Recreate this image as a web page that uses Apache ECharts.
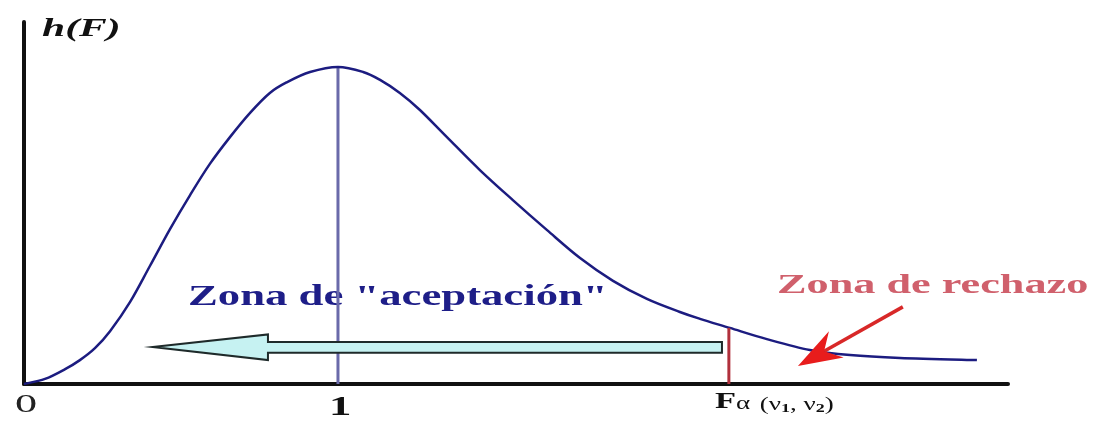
<!DOCTYPE html>
<html><head><meta charset="utf-8">
<script src="https://cdn.jsdelivr.net/npm/echarts@6/dist/echarts.min.js"></script>
<style>html,body{margin:0;padding:0;background:#fff}#c{width:1095px;height:424px}</style>
</head><body><div id="c"></div>
<script>
// F-distribution density curve (x = F value, y = relative height)
const curveX = [0, 0.067, 0.131, 0.178, 0.226, 0.274, 0.338, 0.401, 0.465, 0.529, 0.592, 0.656, 0.720, 0.783, 0.838, 0.911, 1.0, 1.080, 1.134, 1.197, 1.261, 1.347, 1.452, 1.557, 1.666, 1.771, 1.876, 1.984, 2.089, 2.153, 2.248, 2.366, 2.503, 2.631, 2.790, 3.035];
const curveY = [0, 0.014, 0.041, 0.066, 0.099, 0.146, 0.227, 0.326, 0.428, 0.522, 0.608, 0.682, 0.749, 0.804, 0.834, 0.862, 0.876, 0.862, 0.840, 0.804, 0.757, 0.682, 0.591, 0.508, 0.425, 0.348, 0.285, 0.235, 0.199, 0.180, 0.155, 0.124, 0.094, 0.080, 0.072, 0.066];
const meanX = 1, meanTop = 0.876;
const critX = 2.245, critTop = 0.155;
const xMax = 3.134, yMax = 1;
// acceptance arrow outline (x, y)
const acceptArrow = [[0.41, 0.102], [0.777, 0.137], [0.777, 0.116], [2.223, 0.116], [2.223, 0.086], [0.777, 0.086], [0.777, 0.066]];
// rejection pointer: from -> to
const rejectFrom = [2.799, 0.213], rejectTo = [2.465, 0.050];
const tickVals = [0, 1, critX];
const tickTexts = ['0', '1', '{F|F}{a|α}{s| (ν}{b|1}{s|, ν}{b|2}{s|)}'];
const acceptText = 'Zona de "aceptación"';
const rejectText = 'Zona de rechazo';
const yTitle = 'h(F)';

const serif = '"Liberation Serif","DejaVu Serif",serif';
const curveData = curveX.map((x, i) => [x, curveY[i]]);
function splinePath(pts) {
  let d = 'M' + pts[0][0] + ' ' + pts[0][1];
  for (let i = 0; i < pts.length - 1; i++) {
    const p0 = pts[Math.max(i - 1, 0)], p1 = pts[i], p2 = pts[i + 1], p3 = pts[Math.min(i + 2, pts.length - 1)];
    const c1 = [p1[0] + (p2[0] - p0[0]) / 6, p1[1] + (p2[1] - p0[1]) / 6];
    const c2 = [p2[0] - (p3[0] - p1[0]) / 6, p2[1] - (p3[1] - p1[1]) / 6];
    d += ' C' + c1[0] + ' ' + c1[1] + ' ' + c2[0] + ' ' + c2[1] + ' ' + p2[0] + ' ' + p2[1];
  }
  return d;
}
const chart = echarts.init(document.getElementById('c'));
chart.setOption({
  animation: false,
  backgroundColor: '#ffffff',
  grid: { left: 24, right: 87, top: 22, bottom: 40 },
  xAxis: { type: 'value', min: 0, max: xMax, axisLine: { onZero: false, lineStyle: { color: '#111', width: 4 } }, axisTick: { show: false }, axisLabel: { show: false }, splitLine: { show: false } },
  yAxis: { type: 'value', min: 0, max: yMax, axisLine: { show: true, lineStyle: { color: '#111', width: 4 } }, axisTick: { show: false }, axisLabel: { show: false }, splitLine: { show: false } },
  graphic: [
    { type: 'text', x: 42, y: 29, scaleX: 1.6, style: { text: yTitle, font: 'italic bold 26px ' + serif, fill: '#111', textVerticalAlign: 'middle' } },
    { type: 'text', x: 188, y: 297, scaleX: 1.49, style: { text: acceptText, font: 'bold 30px ' + serif, fill: '#1e1e88', textVerticalAlign: 'middle' } },
    { type: 'text', x: 777, y: 286, scaleX: 1.58, style: { text: rejectText, font: 'bold 28px ' + serif, fill: '#d0606c', textVerticalAlign: 'middle' } }
  ],
  series: [
    { type: 'custom', data: curveData, z: 3,
      renderItem: (p, api) => {
        if (p.dataIndex !== 0) return null;
        return { type: 'path', shape: { pathData: splinePath(curveData.map(q => api.coord(q))) }, style: { fill: 'none', stroke: '#1c1c80', lineWidth: 2.5 } };
      } },
    { type: 'custom', data: [[meanX, meanTop]], z: 2,
      renderItem: (p, api) => { const a = api.coord([meanX, 0]), b = api.coord([meanX, meanTop]);
        return { type: 'line', shape: { x1: a[0], y1: a[1], x2: b[0], y2: b[1] }, style: { stroke: '#6a6aaa', lineWidth: 3 } }; } },
    { type: 'custom', data: [[critX, critTop]], z: 4,
      renderItem: (p, api) => { const a = api.coord([critX, 0]), b = api.coord([critX, critTop]);
        return { type: 'line', shape: { x1: a[0], y1: a[1], x2: b[0], y2: b[1] }, style: { stroke: '#b0303c', lineWidth: 3 } }; } },
    { type: 'custom', data: [acceptArrow[0]], z: 5,
      renderItem: (p, api) => ({ type: 'polygon', shape: { points: acceptArrow.map(q => api.coord(q)) }, style: { fill: '#c6f2f2', stroke: '#1e2a2a', lineWidth: 2 } }) },
    { type: 'custom', data: [rejectTo], z: 6,
      renderItem: (p, api) => {
        const a = api.coord(rejectFrom), b = api.coord(rejectTo);
        const dx = b[0] - a[0], dy = b[1] - a[1], L = Math.hypot(dx, dy), ux = dx / L, uy = dy / L, nx = -uy, ny = ux;
        const hl = 44, hw = 15, notch = 30;
        const base = [b[0] - ux * hl, b[1] - uy * hl], nb = [b[0] - ux * notch, b[1] - uy * notch];
        return { type: 'group', children: [
          { type: 'line', shape: { x1: a[0], y1: a[1], x2: nb[0], y2: nb[1] }, style: { stroke: '#d82828', lineWidth: 3.5 } },
          { type: 'polygon', shape: { points: [b, [base[0] + nx * hw, base[1] + ny * hw], nb, [base[0] - nx * hw, base[1] - ny * hw]] }, style: { fill: '#e81c1c' } }
        ] };
      } },
    { type: 'custom', data: tickVals.map((v, i) => [v, i]), z: 6,
      renderItem: (p, api) => {
        const i = p.dataIndex, c = api.coord([tickVals[i], 0]);
        if (i === 0) return { type: 'text', x: c[0] - 9, y: c[1] + 21, scaleX: 1.7, style: { text: tickTexts[i], font: '26px ' + serif, fill: '#222', textVerticalAlign: 'middle' } };
        if (i === 1) return { type: 'text', x: c[0] - 9, y: c[1] + 24, scaleX: 1.6, style: { text: tickTexts[i], font: 'bold 28px ' + serif, fill: '#111', textVerticalAlign: 'middle' } };
        return { type: 'text', x: c[0] - 14, y: c[1] + 18, scaleX: 1.5, style: { text: tickTexts[i], fill: '#111', textVerticalAlign: 'middle',
          rich: { F: { font: 'bold 23px ' + serif, fill: '#111' }, a: { font: '18px ' + serif, fill: '#111', padding: [5, 2, 0, 0] }, s: { font: '18px ' + serif, fill: '#111', padding: [7, 0, 0, 0] }, b: { font: 'bold 12px ' + serif, fill: '#111', padding: [13, 0, 0, 0] } } } };
      } }
  ]
});
</script></body></html>
